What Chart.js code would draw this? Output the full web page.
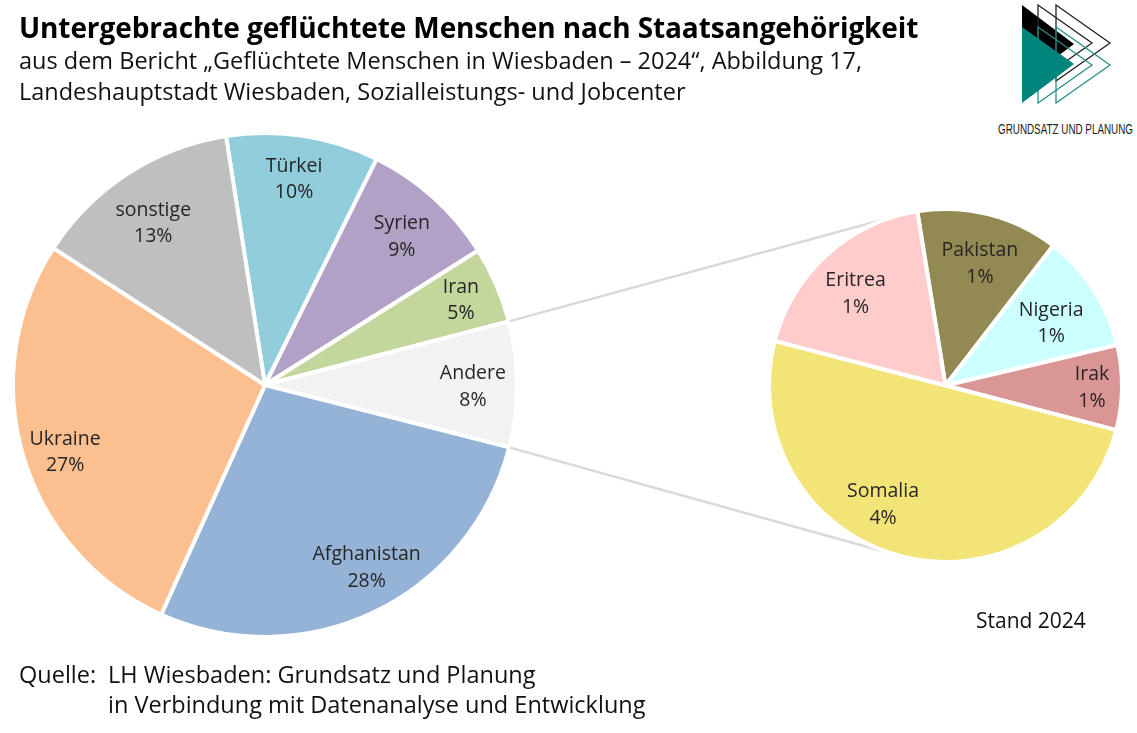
<!DOCTYPE html>
<html lang="de"><head><meta charset="utf-8">
<script src="https://cdn.jsdelivr.net/npm/chart.js@4"></script>
<style>
html,body{margin:0;padding:0;background:#fff;width:1137px;height:733px;overflow:hidden}
canvas{position:absolute;left:0;top:0}
.t{position:absolute;white-space:nowrap;font-family:"Open Sans","Noto Sans",sans-serif;color:#111}
#title{left:19px;top:8px;font-size:28px;font-weight:700;color:#000;line-height:38px;letter-spacing:-.1px}
.sub{left:19px;font-size:23.5px;line-height:32px}
.foot{font-size:23.5px;line-height:32px}
svg{position:absolute;left:0;top:0}
</style></head><body>
<svg width="1137" height="140">
<polygon points="1022,5 1074,44 1022,83" fill="#000"/>
<polygon points="1038,5 1092,43 1038,81" fill="none" stroke="#222" stroke-width="1.3"/>
<polygon points="1056,5 1110,43 1056,81" fill="none" stroke="#222" stroke-width="1.3"/>
<polygon points="1038,27 1092,65 1038,103" fill="none" stroke="#2a8f88" stroke-width="1.3"/>
<polygon points="1056,27 1110,65 1056,103" fill="none" stroke="#2a8f88" stroke-width="1.3"/>
<polygon points="1022,27 1074,64 1022,103" fill="#00857c"/>
<text x="998" y="134" font-family="'Liberation Sans Narrow','Liberation Sans',sans-serif" font-size="15" fill="#222" textLength="135" lengthAdjust="spacingAndGlyphs">GRUNDSATZ UND PLANUNG</text>
</svg>
<canvas id="mainPie" width="1137" height="733"></canvas>
<canvas id="detailPie" width="1137" height="733"></canvas>
<div class="t" id="title">Untergebrachte geflüchtete Menschen nach Staatsangehörigkeit</div>
<div class="t sub" style="top:44px">aus dem Bericht „Geflüchtete Menschen in Wiesbaden – 2024“, Abbildung 17,</div>
<div class="t sub" style="top:75px">Landeshauptstadt Wiesbaden, Sozialleistungs- und Jobcenter</div>
<div class="t" style="left:976px;top:605px;font-size:21px;line-height:30px">Stand 2024</div>
<div class="t foot" style="left:19px;top:658px">Quelle:</div>
<div class="t foot" style="left:108px;top:658px">LH Wiesbaden: Grundsatz und Planung</div>
<div class="t foot" style="left:108px;top:688px">in Verbindung mit Datenanalyse und Entwicklung</div>
<script>
const mainCategories = ["Türkei","Syrien","Iran","Andere","Afghanistan","Ukraine","sonstige"];
const mainValues = [9.78,8.75,4.9,8.05,27.8,27.4,13.4];
const mainColors = ["#92CDDC","#B2A1C7","#C3D69B","#F2F2F2","#95B3D7","#FCBF8F","#BFBFBF"];
const mainLabelRadius = [.83,.805,.85,.825,.825,.835,.785];
const mainLabelTurn = [-.7,.4,-.4,.2,-3.6,-1.8,-1.4];

const detailCategories = ["Pakistan","Nigeria","Irak","Somalia","Eritrea"];
const detailValues = [1.04,.87,.62,4.0,1.47];
const detailColors = ["#938953","#CCFFFF","#D99694","#F3E477","#FFCCCC"];
const detailLabelRadius = [.725,.70,.83,.755,.735];
const detailLabelTurn = [1.4,1.6,-.4,13.3,-1.6];

const labelFont = '19.5px "Open Sans","Noto Sans",sans-serif';
function sliceLabels(radii, turns){
  return {id:'sliceLabels', afterDatasetsDraw(chart){
    const c = chart.ctx, arcs = chart.getDatasetMeta(0).data, ds = chart.data.datasets[0];
    c.save(); c.font = labelFont; c.fillStyle = '#262626'; c.textAlign='center'; c.textBaseline='middle';
    arcs.forEach((a,i)=>{
      const mid = (a.startAngle+a.endAngle)/2 + turns[i]*Math.PI/180, r = a.outerRadius*radii[i];
      const x = a.x + r*Math.cos(mid), y = a.y + r*Math.sin(mid);
      c.fillText(chart.data.labels[i], x, y-11.5);
      c.fillText(Math.round(ds.data[i])+'%', x, y+15);
    });
    c.restore();
  }};
}
function pieConfig(labels, data, colors, rotation, padding, plugins){
  return {type:'pie',
    data:{labels, datasets:[{data, backgroundColor:colors, borderColor:'#fff', borderWidth:4}]},
    options:{responsive:false, animation:false, rotation, layout:{padding},
      plugins:{legend:{display:false}, tooltip:{enabled:false}, title:{display:false}}},
    plugins};
}
const mainChart = new Chart(document.getElementById('mainPie'),
  pieConfig(mainCategories, mainValues, mainColors, -8.9, {left:11,right:618,top:131,bottom:94}, [sliceLabels(mainLabelRadius, mainLabelTurn)]));

const connectors = {id:'connectors', beforeDatasetsDraw(chart){
  const c = chart.ctx, d = chart.getDatasetMeta(0).data[0];
  const R = d.outerRadius, a = mainChart.getDatasetMeta(0).data[mainCategories.indexOf('Andere')];
  const ends = [[a.startAngle,-1],[a.endAngle,1]];
  c.save(); c.strokeStyle='#D9D9D9'; c.lineWidth=2.5;
  ends.forEach(([ang,s])=>{
    const sx = a.x+(a.outerRadius+1)*Math.cos(ang), sy = a.y+(a.outerRadius+1)*Math.sin(ang);
    const dx = d.x-sx, dy = d.y-sy, dist = Math.hypot(dx,dy);
    const dir = Math.atan2(dy,dx)+s*Math.asin(R/dist), len = Math.sqrt(dist*dist-R*R);
    c.beginPath(); c.moveTo(sx,sy); c.lineTo(sx+len*Math.cos(dir), sy+len*Math.sin(dir)); c.stroke();
  });
  c.restore();
}};
new Chart(document.getElementById('detailPie'),
  pieConfig(detailCategories, detailValues, detailColors, -9.2, {left:767,right:13,top:206,bottom:168}, [connectors, sliceLabels(detailLabelRadius, detailLabelTurn)]));
</script>
</body></html>
